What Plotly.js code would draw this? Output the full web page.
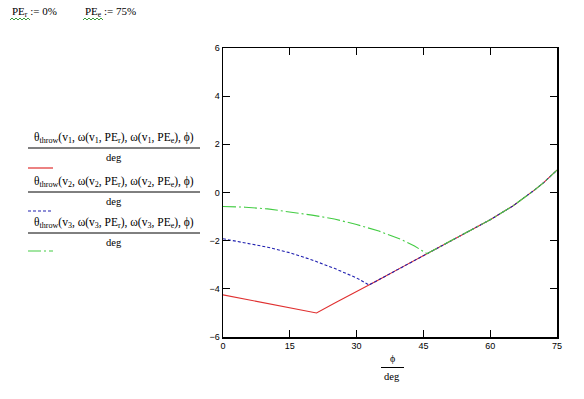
<!DOCTYPE html>
<html><head><meta charset="utf-8">
<script src="https://cdn.plot.ly/plotly-3.0.1.min.js"></script>
<style>html,body{margin:0;padding:0;background:#fff}#chart{width:584px;height:399px}</style>
</head><body><div id="chart"></div>
<script>
// ---- data ----
const phi1 = [0,5,10,15,20,21,25,30,35,40,45,50,55,60,65,68,70,72,75];
const theta1 = [-4.25,-4.43,-4.6,-4.78,-4.95,-5.0,-4.6,-4.12,-3.62,-3.12,-2.62,-2.12,-1.63,-1.13,-0.57,-0.17,0.11,0.41,0.93];
const phi2 = [0,5,10,15,20,25,30,32.8,35,40,45,50,55,60,65,68,70,72,75];
const theta2 = [-1.92,-2.08,-2.27,-2.5,-2.8,-3.15,-3.55,-3.84,-3.62,-3.12,-2.62,-2.12,-1.63,-1.13,-0.57,-0.17,0.11,0.41,0.93];
const phi3 = [0,5,10,15,20,25,30,35,40,43,45.8,50,55,60,65,68,70,72,75];
const theta3 = [-0.58,-0.61,-0.68,-0.8,-0.94,-1.1,-1.33,-1.6,-1.95,-2.22,-2.54,-2.12,-1.63,-1.13,-0.57,-0.17,0.11,0.41,0.93];
const xTicks = [0,15,30,45,60,75];
const yTicks = [-6,-4,-2,0,2,4,6];
const legendIdx = ['1','2','3'];

const RED = '#e03030', BLUE = '#2020b0', GREEN = '#44cc44';
const colors = [RED, BLUE, GREEN];
const dashes = ['solid', '3px,2px', '13px,3px,2px,3px'];

// layout geometry helpers (pixel -> paper)
const L = 223, R = 557, T = 48, B = 337;
const px = x => (x - L) / (R - L);
const py = y => (B - y) / (B - T);

const traces = [
  {x: phi1, y: theta1},
  {x: phi2, y: theta2},
  {x: phi3, y: theta3}
].map((t, i) => ({
  x: t.x, y: t.y, type: 'scatter', mode: 'lines',
  line: {color: colors[i], width: 1.1, dash: dashes[i], shape: 'linear'},
  hoverinfo: 'skip', showlegend: false
}));

const serif = 'Liberation Serif';
const annotations = [];
const shapes = [];

// legend fractions
const ruleY = [148, 192, 233];
const sampleY = [168, 211, 251];
legendIdx.forEach((n, i) => {
  annotations.push({
    xref: 'paper', yref: 'paper', x: px(114), y: py(ruleY[i] - 1),
    xanchor: 'center', yanchor: 'bottom', showarrow: false,
    text: 'θ<sub>throw</sub>(v<sub>' + n + '</sub>, ω(v<sub>' + n + '</sub>, PE<sub>r</sub>), ω(v<sub>' + n + '</sub>, PE<sub>e</sub>), ϕ)',
    font: {family: serif, size: 11.5, color: '#000'}
  });
  annotations.push({
    xref: 'paper', yref: 'paper', x: px(114), y: py(ruleY[i] + 2),
    xanchor: 'center', yanchor: 'top', showarrow: false,
    text: 'deg', font: {family: serif, size: 10.5, color: '#000'}
  });
  shapes.push({type: 'line', xref: 'paper', yref: 'paper',
    x0: px(28), x1: px(200), y0: py(ruleY[i]), y1: py(ruleY[i]),
    line: {color: '#000', width: 1}});
  shapes.push({type: 'line', xref: 'paper', yref: 'paper',
    x0: px(28), x1: px(53), y0: py(sampleY[i]), y1: py(sampleY[i]),
    line: {color: colors[i], width: 1.2, dash: dashes[i]}});
});

// x-axis title as fraction
annotations.push({xref: 'paper', yref: 'paper', x: px(392), y: py(366),
  xanchor: 'center', yanchor: 'bottom', showarrow: false, text: 'ϕ',
  font: {family: serif, size: 10, color: '#000'}});
annotations.push({xref: 'paper', yref: 'paper', x: px(392), y: py(369),
  xanchor: 'center', yanchor: 'top', showarrow: false, text: 'deg',
  font: {family: serif, size: 10.5, color: '#000'}});
shapes.push({type: 'line', xref: 'paper', yref: 'paper',
  x0: px(381), x1: px(404), y0: py(367.5), y1: py(367.5), line: {color: '#000', width: 1}});

// top definitions
annotations.push({xref: 'paper', yref: 'paper', x: px(10), y: py(12),
  xanchor: 'left', yanchor: 'middle', showarrow: false,
  text: 'PE<sub>r</sub> := 0%', font: {family: serif, size: 11, color: '#000'}});
annotations.push({xref: 'paper', yref: 'paper', x: px(83), y: py(12),
  xanchor: 'left', yanchor: 'middle', showarrow: false,
  text: 'PE<sub>e</sub> := 75%', font: {family: serif, size: 11, color: '#000'}});
// green squiggle warning underline
function squiggle(x0, x1, y) {
  let d = 'M ' + px(x0) + ' ' + py(y);
  let up = true;
  for (let x = x0 + 2; x <= x1; x += 2) {
    d += ' L ' + px(x) + ' ' + py(up ? y - 2 : y);
    up = !up;
  }
  return d;
}
shapes.push({type: 'path', xref: 'paper', yref: 'paper', path: squiggle(10, 30, 20),
  line: {color: '#3a9a3a', width: 1}});
shapes.push({type: 'path', xref: 'paper', yref: 'paper', path: squiggle(83, 103, 20),
  line: {color: '#3a9a3a', width: 1}});

const axisCommon = {
  showgrid: false, zeroline: false, showline: true, linecolor: '#000', linewidth: 1.5,
  mirror: 'ticks', ticks: 'inside', ticklen: 7, tickwidth: 1, tickcolor: '#000',
  tickfont: {family: 'Liberation Sans', size: 9, color: '#000'}
};

const layout = {
  width: 584, height: 399,
  margin: {l: L, r: 584 - R, t: T, b: 399 - B, pad: 0},
  paper_bgcolor: '#fff', plot_bgcolor: '#fff',
  xaxis: Object.assign({}, axisCommon, {range: [0, 75], tickvals: xTicks, ticktext: xTicks.map(String)}),
  yaxis: Object.assign({}, axisCommon, {range: [-6, 6], tickvals: yTicks}),
  annotations: annotations, shapes: shapes
};

Plotly.newPlot('chart', traces, layout, {staticPlot: true, displayModeBar: false});
</script></body></html>
